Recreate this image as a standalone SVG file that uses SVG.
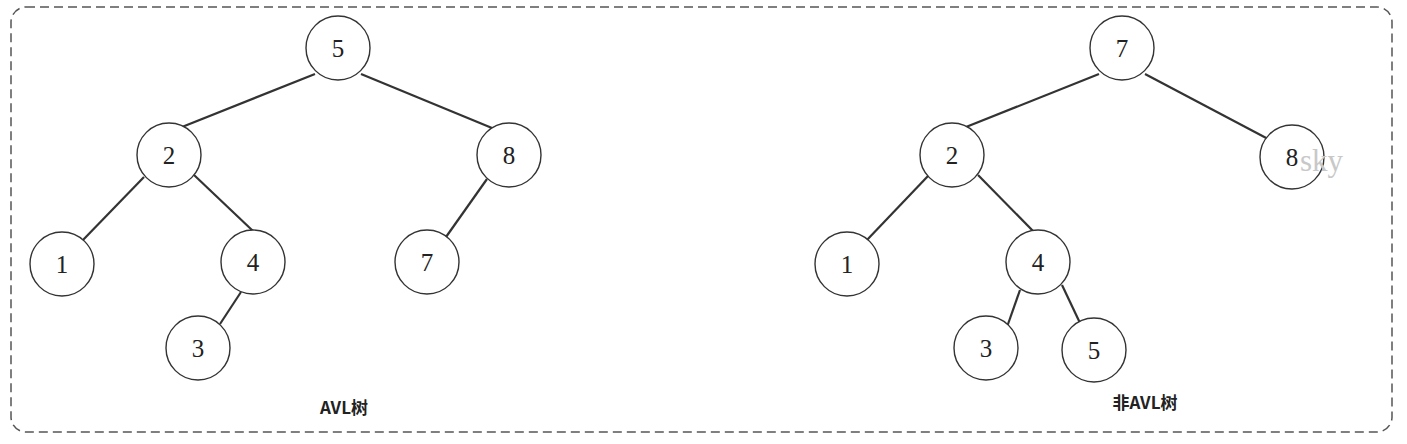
<svg xmlns="http://www.w3.org/2000/svg" width="1407" height="444" viewBox="0 0 1407 444">
<style>
.frame{fill:none;stroke:#555;stroke-width:1.5;stroke-dasharray:9,5}
.node circle{fill:#fff;stroke:#333;stroke-width:1.4}
.node text{font-family:"Liberation Serif",serif;font-size:25px;fill:#222;text-anchor:middle;dominant-baseline:central}
#edges line{stroke:#333;stroke-width:2.2}
.label{font-family:"Noto Sans CJK SC",sans-serif;font-size:17px;fill:#222;text-anchor:middle;font-weight:bold}
.wm{font-family:"Liberation Serif",serif;font-size:31px;fill:#c8c8c8}
</style>
<rect class="frame" x="11" y="7" width="1381" height="425" rx="15" ry="15"/>
<g id="edges">
<line x1="315" y1="74" x2="182" y2="127"/>
<line x1="361" y1="74" x2="492" y2="128"/>
<line x1="144" y1="177" x2="82" y2="241"/>
<line x1="194" y1="175" x2="253" y2="231"/>
<line x1="241" y1="292" x2="220" y2="324"/>
<line x1="487" y1="179" x2="446" y2="237"/>
<line x1="1099" y1="74" x2="966" y2="127"/>
<line x1="1145" y1="74" x2="1270" y2="140"/>
<line x1="928" y1="176" x2="866" y2="241"/>
<line x1="978" y1="175" x2="1034" y2="232"/>
<line x1="1020" y1="290" x2="1007" y2="327"/>
<line x1="1062" y1="285" x2="1080" y2="323"/>
</g>
<g id="L5" class="node"><circle cx="338" cy="48" r="32"/><text x="338" y="48">5</text></g>
<g id="L2" class="node"><circle cx="169" cy="155" r="32"/><text x="169" y="155">2</text></g>
<g id="L8" class="node"><circle cx="509" cy="155" r="32"/><text x="509" y="155">8</text></g>
<g id="L1" class="node"><circle cx="62" cy="264" r="32"/><text x="62" y="264">1</text></g>
<g id="L4" class="node"><circle cx="253" cy="262" r="32"/><text x="253" y="262">4</text></g>
<g id="L7" class="node"><circle cx="427" cy="262" r="32"/><text x="427" y="262">7</text></g>
<g id="L3" class="node"><circle cx="198" cy="348" r="32"/><text x="198" y="348">3</text></g>
<g id="R7" class="node"><circle cx="1122" cy="48" r="32"/><text x="1122" y="48">7</text></g>
<g id="R2" class="node"><circle cx="952" cy="155" r="32"/><text x="952" y="155">2</text></g>
<g id="R8" class="node"><circle cx="1292" cy="157" r="32"/><text x="1292" y="157">8</text></g>
<g id="R1" class="node"><circle cx="847" cy="264" r="32"/><text x="847" y="264">1</text></g>
<g id="R4" class="node"><circle cx="1038" cy="262" r="32"/><text x="1038" y="262">4</text></g>
<g id="R3" class="node"><circle cx="986" cy="348" r="32"/><text x="986" y="348">3</text></g>
<g id="R5" class="node"><circle cx="1094" cy="350" r="32"/><text x="1094" y="350">5</text></g>
<text class="wm" x="1300" y="171">sky</text>
<text class="label" x="344" y="414">AVL树</text>
<text class="label" x="1145" y="409">非AVL树</text>
</svg>
